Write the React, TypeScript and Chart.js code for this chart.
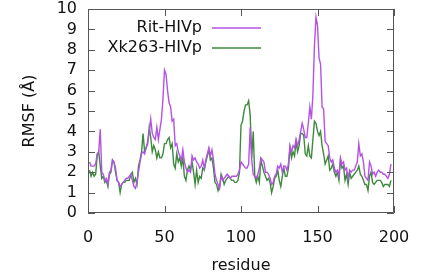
import React, { useEffect, useRef } from "react";
import { Chart, registerables } from "chart.js";

Chart.register(...registerables);

const seriesLabels = ["Rit-HIVp", "Xk263-HIVp"];
const seriesColors = ["#b452e6", "#3d8a3d"];

const rit = [
  2.5, 2.3, 2.3, 2.3, 2.4, 2.9, 3.0, 4.1, 2.0, 1.9,
  1.6, 1.7, 1.4, 2.0, 2.1, 2.6, 2.5, 2.2, 1.6, 1.5,
  1.3, 1.4, 1.5, 1.6, 1.7, 1.7, 1.8, 1.9, 1.6, 1.3,
  1.2, 1.5, 2.0, 2.5, 2.9, 3.0, 2.9, 3.2, 3.5, 3.9,
  4.6, 3.9, 3.7, 3.6, 4.2, 3.6, 4.1, 4.6, 5.6, 7.0,
  6.8, 6.0, 5.4, 5.2, 4.5, 4.6, 3.3, 3.4, 3.0, 2.8,
  2.6, 3.1, 2.5, 2.2, 2.0, 2.1, 2.0, 2.8, 2.6, 2.7,
  2.5, 2.4, 2.2, 2.3, 2.6, 2.2, 2.6, 2.9, 3.2, 2.8,
  3.1, 2.6, 1.9, 1.6, 1.4, 1.2, 1.8, 1.6, 1.7, 1.8,
  1.9, 1.8, 1.7, 1.8, 1.8, 1.8, 1.8, 1.9, 2.1, 2.5,
  2.4, 2.3, 2.2, 2.2, 2.4, 4.2, 2.6, 1.9, 1.8, 1.7,
  1.9, 2.2, 2.7, 2.6, 2.5, 2.0, 2.0, 1.9, 1.7, 1.4,
  1.5, 1.8, 1.9, 2.3, 2.2, 2.4, 2.0, 2.3, 2.3, 2.1,
  2.4, 3.3, 3.0, 3.3, 3.2, 3.6, 3.3, 3.6, 4.0, 4.4,
  4.1, 3.7, 3.7, 4.4, 5.2, 4.6, 5.8, 8.2, 9.6, 9.2,
  7.6, 7.3, 5.2, 5.1, 3.5, 3.4, 3.3, 2.7, 2.5, 2.6,
  2.2, 2.0, 2.1, 1.8, 2.7, 2.4, 2.5, 2.1, 2.2, 1.7,
  2.1, 2.0, 2.1, 2.1, 2.3, 2.5, 3.4, 2.8, 2.9, 2.5,
  1.8, 1.7, 1.6, 2.5, 2.3, 1.9, 2.0, 1.8, 2.0, 2.1,
  2.0, 2.0, 1.9, 1.9, 1.8, 1.7, 1.9, 2.4,
];

const xk263 = [
  2.1, 1.8, 2.0, 1.8, 1.9, 2.8, 3.0, 2.3, 1.7, 1.8,
  1.5, 1.6, 1.3, 1.9, 2.0, 2.6, 2.5, 2.0, 1.6, 1.5,
  1.0, 1.4, 1.5, 1.5, 1.6, 1.6, 1.6, 1.9, 2.0, 1.5,
  1.7, 1.4, 2.3, 2.6, 3.0, 3.9, 3.0, 3.2, 3.4, 4.2,
  3.7, 3.0, 3.3, 3.1, 2.7, 3.0, 2.7, 2.7, 2.9, 3.4,
  3.4, 3.6, 3.7, 3.2, 3.4, 2.4, 2.2, 2.9, 2.5, 2.7,
  2.3, 2.7, 1.8, 1.6, 2.1, 2.3, 2.1, 2.5, 2.0, 1.4,
  2.1, 1.5, 1.8, 1.7, 2.2, 2.1, 2.5, 2.8, 3.1, 2.6,
  2.7, 2.2, 1.5, 1.4, 1.1, 1.3, 1.9, 1.7, 1.4, 1.6,
  1.7, 1.8, 1.7, 1.6, 1.6, 1.5, 1.5, 1.6, 2.0, 4.3,
  4.5, 5.0, 5.3, 5.3, 5.5, 4.8, 2.7, 4.0, 1.8, 1.5,
  1.8, 1.5, 2.6, 2.3, 2.0, 1.8, 1.6, 1.7, 1.5, 1.0,
  1.3, 1.7, 1.8, 2.1, 1.6, 1.3, 1.8, 2.2, 1.8, 1.8,
  2.2, 3.2, 2.7, 3.0, 2.8, 3.5, 3.0, 3.3, 3.9, 3.9,
  3.8, 2.9, 2.8, 3.3, 2.8, 2.7, 3.6, 4.5, 4.4, 4.0,
  3.8, 4.0, 3.3, 2.9, 2.4, 2.6, 2.8, 2.1, 2.2, 2.4,
  2.0, 1.8, 2.0, 1.6, 2.6, 2.2, 2.3, 1.6, 1.9, 1.4,
  2.0, 1.7, 1.8, 1.9, 2.0, 2.1, 2.3, 1.9, 1.8, 1.6,
  1.4, 1.4, 1.1, 1.8, 2.0, 1.5, 1.4, 1.5, 1.6, 1.6,
  1.6, 1.5, 1.3, 1.4, 1.4, 1.4, 1.3, 1.6,
];

const residues = rit.map((_, i) => i + 1);
const xTicks = [0, 50, 100, 150, 200];
const yTicks = [0, 1, 2, 3, 4, 5, 6, 7, 8, 9, 10];

const FONT = "'DejaVu Sans', sans-serif";

const framePlugin = {
  id: "gnuplotFrame",
  afterDatasetsDraw(chart: any) {
    const { ctx, chartArea } = chart;
    const { left, right, top, bottom } = chartArea;
    const xs = chart.scales.x;
    const ys = chart.scales.y;
    const tl = 7;
    ctx.save();
    ctx.strokeStyle = "#555";
    ctx.lineWidth = 1;
    ctx.beginPath();
    ctx.rect(left + 0.5, top + 0.5, right - left - 1, bottom - top - 1);
    for (const v of yTicks) {
      const py = Math.round(ys.getPixelForValue(v)) + 0.5;
      ctx.moveTo(left, py);
      ctx.lineTo(left + tl, py);
      ctx.moveTo(right, py);
      ctx.lineTo(right - tl, py);
    }
    for (const v of xTicks) {
      const px = Math.round(xs.getPixelForValue(v)) + 0.5;
      ctx.moveTo(px, bottom);
      ctx.lineTo(px, bottom - tl);
      ctx.moveTo(px, top);
      ctx.lineTo(px, top + tl);
    }
    ctx.stroke();

    // gnuplot-style legend: right-aligned text then line sample
    ctx.font = `16px ${FONT}`;
    ctx.textAlign = "right";
    ctx.textBaseline = "middle";
    chart.data.datasets.forEach((ds: any, i: number) => {
      const y = 28 + i * 20;
      ctx.fillStyle = "#111";
      ctx.fillText(ds.label, 202, y);
      ctx.strokeStyle = ds.borderColor;
      ctx.lineWidth = 1.5;
      ctx.beginPath();
      ctx.moveTo(212, y);
      ctx.lineTo(261, y);
      ctx.stroke();
    });
    ctx.restore();
  },
};

export default function App() {
  const ref = useRef<HTMLCanvasElement>(null);
  useEffect(() => {
    document.body.style.margin = "0";
    const canvas = ref.current!;
    const chart = new Chart(canvas, {
      type: "line",
      data: {
        datasets: [rit, xk263].map((vals, si) => ({
          label: seriesLabels[si],
          data: vals.map((v, i) => ({ x: residues[i], y: v })),
          borderColor: seriesColors[si],
          backgroundColor: seriesColors[si],
          borderWidth: 1.4,
          pointRadius: 0,
          tension: 0,
          fill: false,
        })),
      },
      options: {
        animation: false,
        responsive: false,
        maintainAspectRatio: false,
        layout: { padding: { top: 9, right: 33, left: 0, bottom: 0 } },
        plugins: { legend: { display: false }, tooltip: { enabled: false } },
        scales: {
          x: {
            type: "linear",
            min: 0,
            max: 200,
            afterBuildTicks: (s: any) => {
              s.ticks = xTicks.map((v) => ({ value: v }));
            },
            afterFit: (s: any) => {
              s.height = 62;
              s.paddingLeft = 0;
              s.paddingRight = 0;
            },
            grid: { display: false, drawTicks: false },
            border: { display: false },
            ticks: {
              autoSkip: false,
              padding: 15,
              maxRotation: 0,
              color: "#111",
              font: { family: FONT, size: 16 },
            },
            title: {
              display: true,
              text: "residue",
              color: "#111",
              font: { family: FONT, size: 16 },
              padding: { top: 0, bottom: 0 },
            },
          },
          y: {
            type: "linear",
            min: 0,
            max: 10,
            afterBuildTicks: (s: any) => {
              s.ticks = yTicks.map((v) => ({ value: v }));
            },
            afterFit: (s: any) => {
              s.width = 88;
              s.paddingTop = 0;
              s.paddingBottom = 0;
            },
            grid: { display: false, drawTicks: false },
            border: { display: false },
            ticks: {
              autoSkip: false,
              padding: 11,
              color: "#111",
              font: { family: FONT, size: 16 },
            },
            title: {
              display: true,
              text: "RMSF (Å)",
              color: "#111",
              font: { family: FONT, size: 16 },
              padding: { top: 20, bottom: 0 },
            },
          },
        },
      },
      plugins: [framePlugin],
    });
    return () => chart.destroy();
  }, []);
  return (
    <div style={{ position: "relative", width: 427, height: 275, background: "#fff" }}>
      <canvas ref={ref} width={427} height={275} style={{ display: "block" }} />
    </div>
  );
}
